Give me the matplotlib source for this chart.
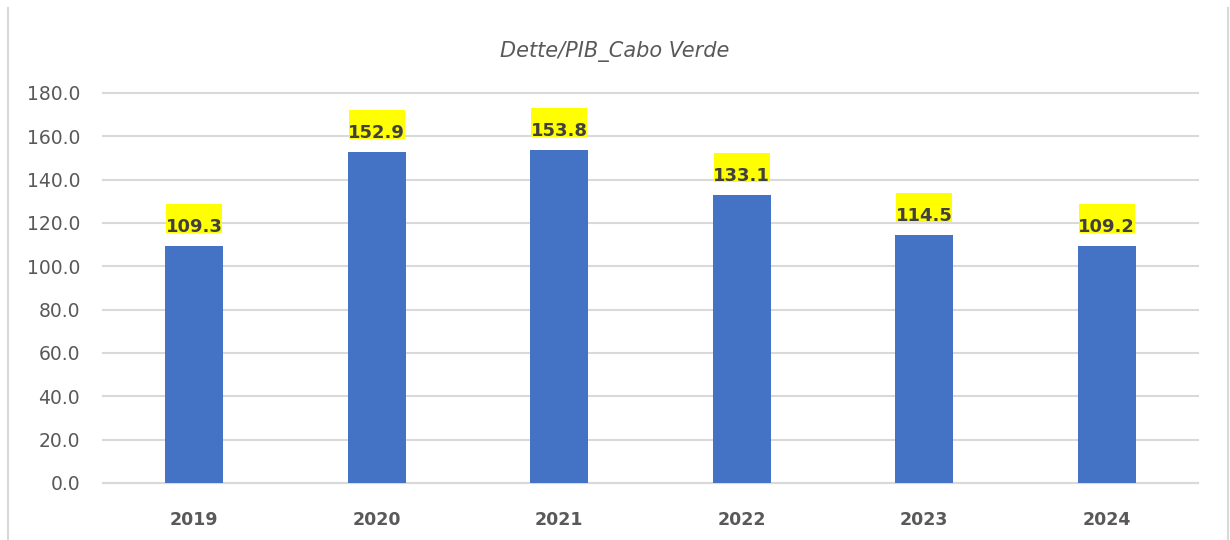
import matplotlib
matplotlib.use("Agg")
import matplotlib.pyplot as plt
import matplotlib.transforms as mtransforms
from matplotlib.patches import Rectangle
from matplotlib.lines import Line2D

years = ["2019", "2020", "2021", "2022", "2023", "2024"]
values = [109.3, 152.9, 153.8, 133.1, 114.5, 109.2]
yticks = [0, 20, 40, 60, 80, 100, 120, 140, 160, 180]
title = "Dette/PIB_Cabo Verde"

plt.rcParams['font.family'] = ['DejaVu Sans']

W, H = 1230, 540
fig = plt.figure(figsize=(W / 100, H / 100), dpi=100)
ax = fig.add_axes([103 / W, 1 - 483 / H, (1198 - 103) / W, (483 - 93) / H])

x = list(range(len(years)))
ax.bar(x, values, width=0.32, color="#4472C4", zorder=3)

ax.set_xlim(-0.5, len(years) - 0.5)
ax.set_ylim(0, 180)
ax.set_yticks(yticks)
ax.set_yticklabels([f"{v:.1f}" for v in yticks], fontsize=13.5, color="#595959")
ax.set_xticks(x)
ax.set_xticklabels(years, fontsize=12.5, fontweight="bold", color="#595959")
ax.tick_params(axis="both", length=0)
ax.tick_params(axis="y", pad=16.5)
ax.tick_params(axis="x", pad=20)

ax.grid(axis="y", color="#d9d9d9", linewidth=1.5, zorder=0)
for gl in ax.get_ygridlines():
    gl.set_clip_on(False)
for s in ["top", "right", "left"]:
    ax.spines[s].set_visible(False)
ax.spines["bottom"].set_color("#d9d9d9")
ax.spines["bottom"].set_linewidth(1.5)

for xi, v in zip(x, values):
    tr = mtransforms.IdentityTransform() + mtransforms.ScaledTranslation(xi, v, ax.transData)
    ax.add_patch(Rectangle((-28, 13), 56, 29, transform=tr, facecolor="#FFFF00",
                           edgecolor="none", zorder=4, clip_on=False))
    ax.annotate(f"{v:.1f}", xy=(xi, v), xytext=(0, 14), textcoords="offset pixels",
                ha="center", va="baseline", fontsize=13, fontweight="bold", color="#404040",
                zorder=5, annotation_clip=False)

fig.text(0.5, 1 - 52 / H, title, ha="center", va="center", fontsize=15,
         style="italic", color="#595959")

# chart border (left and right sides)
for px in (8, 1228):
    fig.lines.append(Line2D([px / W, px / W], [0, 1 - 8 / H], transform=fig.transFigure,
                            color="#d9d9d9", linewidth=1.5))

fig.savefig("out.png", dpi=100)
